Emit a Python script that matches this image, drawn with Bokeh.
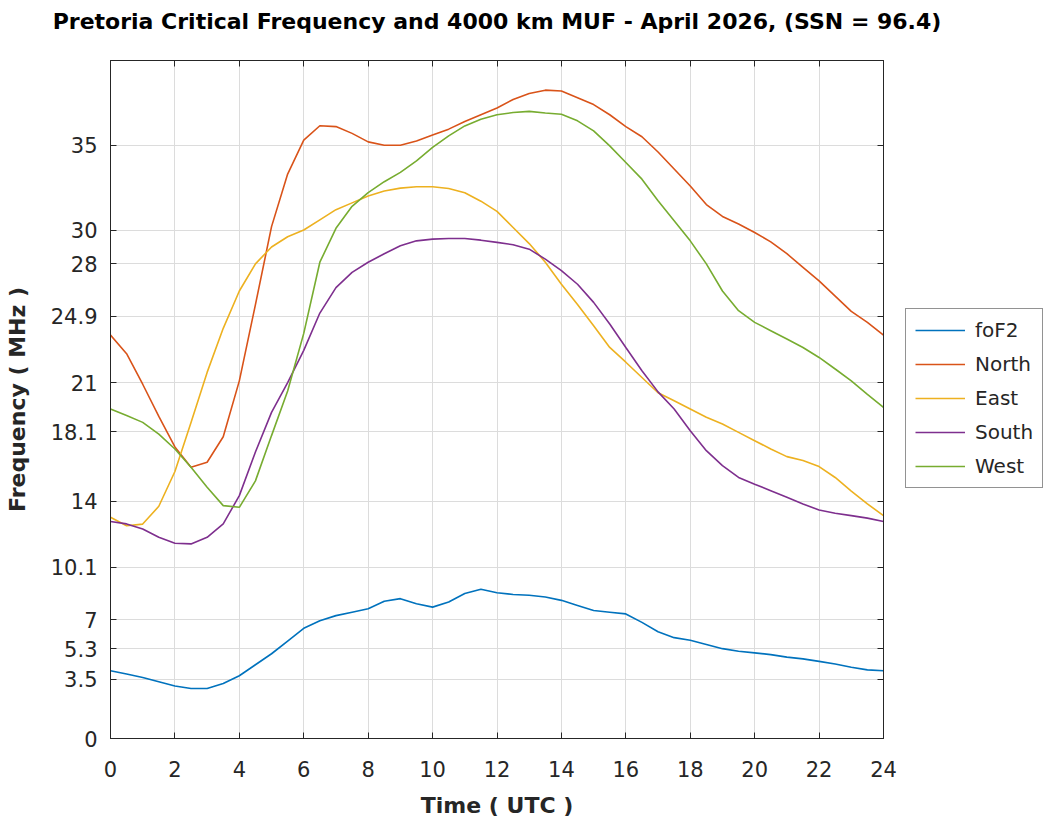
from bokeh.plotting import figure
from bokeh.layouts import row, column
from bokeh.models import Legend, LegendItem, LinearAxis, FixedTicker, Range1d
from bokeh.embed import file_html
from bokeh.resources import INLINE

hours = [i * 0.5 for i in range(49)]

fof2 = [4.0, 3.8, 3.6, 3.35, 3.1, 2.95, 2.95, 3.25, 3.7, 4.35, 5.0, 5.75, 6.5, 6.95, 7.25, 7.45, 7.65,
        8.1, 8.25, 7.95, 7.75, 8.05, 8.55, 8.8, 8.6, 8.5, 8.45, 8.35, 8.15, 7.85, 7.55, 7.45, 7.35,
        6.85, 6.3, 5.95, 5.8, 5.55, 5.3, 5.15, 5.05, 4.95, 4.8, 4.7, 4.55, 4.4, 4.2, 4.05, 4.0]
north = [23.8, 22.7, 20.9, 19.0, 17.2, 16.0, 16.3, 17.8, 21.1, 25.6, 30.2, 33.3, 35.3, 36.15, 36.1,
         35.7, 35.2, 35.0, 35.0, 35.25, 35.6, 35.95, 36.4, 36.8, 37.2, 37.7, 38.05, 38.25, 38.2, 37.8,
         37.4, 36.8, 36.1, 35.5, 34.6, 33.6, 32.6, 31.5, 30.8, 30.35, 29.85, 29.3, 28.6, 27.8, 27.0,
         26.1, 25.2, 24.55, 23.8]
east = [13.05, 12.55, 12.65, 13.7, 15.75, 18.65, 21.6, 24.2, 26.4, 28.0, 29.0, 29.6, 30.0, 30.6, 31.2,
        31.6, 32.0, 32.3, 32.47, 32.55, 32.55, 32.45, 32.2, 31.7, 31.1, 30.15, 29.2, 28.1, 26.8, 25.6,
        24.35, 23.07, 22.2, 21.3, 20.4, 19.93, 19.44, 18.95, 18.55, 18.06, 17.57, 17.08, 16.63, 16.4,
        16.04, 15.4, 14.6, 13.84, 13.15]
south = [12.8, 12.66, 12.36, 11.87, 11.52, 11.48, 11.87, 12.66, 14.33, 16.9, 19.24, 21.0, 22.9, 25.1,
         26.6, 27.5, 28.1, 28.6, 29.07, 29.36, 29.46, 29.5, 29.5, 29.4, 29.27, 29.13, 28.87, 28.28,
         27.6, 26.8, 25.73, 24.45, 23.07, 21.7, 20.45, 19.44, 18.16, 16.98, 16.1, 15.4, 15.0, 14.62,
         14.23, 13.84, 13.48, 13.29, 13.15, 13.0, 12.8]
west = [19.44, 19.05, 18.65, 17.96, 17.08, 16.0, 14.82, 13.74, 13.64, 15.2, 17.87, 20.5, 23.9, 28.1,
        30.1, 31.4, 32.2, 32.85, 33.4, 34.08, 34.87, 35.55, 36.14, 36.54, 36.8, 36.93, 37.0, 36.9,
        36.83, 36.44, 35.85, 34.96, 33.98, 33.0, 31.72, 30.54, 29.36, 28.0, 26.4, 25.24, 24.55, 24.06,
        23.57, 23.07, 22.48, 21.8, 21.1, 20.3, 19.53]

series_names = ["foF2", "North", "East", "South", "West"]
series_values = [fof2, north, east, south, west]
series_colors = ["#0072BD", "#D95319", "#EDB120", "#7E2F8E", "#77AC30"]

x_ticks = list(range(0, 25, 2))
y_ticks = [0, 3.5, 5.3, 7, 10.1, 14, 18.1, 21, 24.9, 28, 30, 35]
y_tick_labels = ["0", "3.5", "5.3", "7", "10.1", "14", "18.1", "21", "24.9", "28", "30", "35"]

title_text = "Pretoria Critical Frequency and 4000 km MUF - April 2026, (SSN = 96.4)"
FONT = "DejaVu Sans"
DARK = "#262626"
H = 780          # height of plot row
LEFT, TOP, BOTTOM = 110, 20, 82
PW = 897         # main plot width
LW = 146         # legend panel width

# ---- header with the title -------------------------------------------------
hf = figure(width=PW + LW, height=40, x_range=Range1d(0, 1), y_range=Range1d(0, 1),
            x_axis_type=None, y_axis_type=None, output_backend="svg", toolbar_location=None,
            min_border_left=LEFT, min_border_right=PW + LW - 883, min_border_top=33,
            min_border_bottom=0)
hf.title.text = title_text
hf.title.align = "center"
hf.title.text_font = FONT
hf.title.text_font_size = "22px"
hf.title.text_font_style = "bold"
hf.title.text_color = "#000000"
hf.title.standoff = 0
hf.outline_line_color = None
hf.background_fill_color = "white"
hf.border_fill_color = "white"

# ---- main plot -------------------------------------------------------------
p = figure(width=PW, height=H, x_range=Range1d(0, 24), y_range=Range1d(0, 40),
           output_backend="svg", toolbar_location=None, title=None,
           min_border_left=LEFT, min_border_right=14, min_border_top=TOP, min_border_bottom=BOTTOM)
p.outline_line_color = DARK
p.background_fill_color = "white"
p.border_fill_color = "white"

xa = p.xaxis[0]
ya = p.yaxis[0]
xa.ticker = FixedTicker(ticks=x_ticks)
ya.ticker = FixedTicker(ticks=y_ticks)
ya.major_label_overrides = {t: l for t, l in zip(y_ticks, y_tick_labels)}
for ax in (xa, ya):
    ax.major_tick_in = 6
    ax.major_tick_out = 0
    ax.minor_tick_line_color = None
    ax.axis_line_color = DARK
    ax.major_tick_line_color = DARK
    ax.major_label_text_font = FONT
    ax.major_label_text_font_size = "21px"
    ax.major_label_text_color = DARK
    ax.axis_label_text_font = FONT
    ax.axis_label_text_font_size = "22px"
    ax.axis_label_text_font_style = "bold"
    ax.axis_label_text_color = DARK
xa.axis_label = "Time ( UTC )"
ya.axis_label = "Frequency ( MHz )"
xa.major_label_standoff = 22
ya.major_label_standoff = 13
xa.axis_label_standoff = 13
ya.axis_label_standoff = 18

p.xgrid.ticker = FixedTicker(ticks=x_ticks)
p.ygrid.ticker = FixedTicker(ticks=y_ticks)
p.xgrid.grid_line_color = "#dcdcdc"
p.ygrid.grid_line_color = "#dcdcdc"

for vals, col in zip(series_values, series_colors):
    p.line(hours, vals, line_color=col, line_width=1.6)

top = LinearAxis(ticker=FixedTicker(ticks=x_ticks), major_label_text_color=None,
                 major_label_standoff=0, major_tick_in=6, major_tick_out=0,
                 minor_tick_line_color=None, axis_line_color=DARK, major_tick_line_color=DARK)
right = LinearAxis(ticker=FixedTicker(ticks=y_ticks), major_label_text_color=None,
                   major_label_standoff=0, major_tick_in=6, major_tick_out=0,
                   minor_tick_line_color=None, axis_line_color=DARK, major_tick_line_color=DARK)
p.add_layout(top, "above")
p.add_layout(right, "right")

# ---- legend panel (same series, drawn outside its visible range) -----------
lf = figure(width=LW, height=H, x_range=Range1d(-10, -9), y_range=Range1d(0, 40),
            x_axis_type=None, y_axis_type=None, output_backend="svg", toolbar_location=None,
            title=None, min_border_left=0, min_border_right=0,
            min_border_top=TOP, min_border_bottom=BOTTOM)
lf.outline_line_color = None
lf.background_fill_color = "white"
lf.border_fill_color = "white"
items = []
for name, vals, col in zip(series_names, series_values, series_colors):
    r = lf.line(hours, vals, line_color=col, line_width=1.6)
    items.append(LegendItem(label=name, renderers=[r]))
legend = Legend(items=items, location=(8, 250), border_line_color=DARK, border_line_width=1,
                glyph_width=50, glyph_height=20, label_height=20, spacing=10, padding=9,
                margin=0, label_standoff=10, label_text_font=FONT, label_text_font_size="20px",
                label_text_color=DARK, background_fill_color="white")
lf.add_layout(legend, "center")

layout = column(hf, row(p, lf, spacing=0), spacing=0)
open("out.html", "w").write(file_html(layout, INLINE))
